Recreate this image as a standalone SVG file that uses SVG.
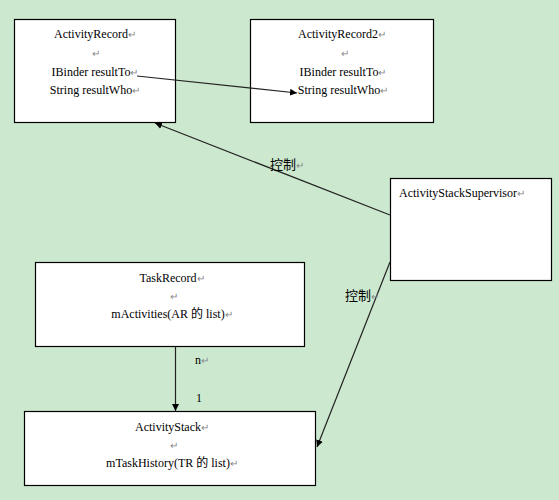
<svg xmlns="http://www.w3.org/2000/svg" width="559" height="500" viewBox="0 0 559 500">
<style>
.box{fill:#fff;stroke:#000;stroke-width:1.2}
.t{font-family:"Liberation Serif","Noto Sans CJK SC",serif;font-size:12px;fill:#000}
.c{text-anchor:middle}
.pm{fill:#888;font-size:10px}
.cn{font-family:"Noto Sans CJK SC",sans-serif;font-size:13px;fill:#000}
.ln{stroke:#222;stroke-width:1.2;fill:none;marker-end:url(#ah)}
</style>
<defs>
<marker id="ah" viewBox="0 0 10 10" refX="10" refY="5" markerWidth="7" markerHeight="7" markerUnits="userSpaceOnUse" orient="auto">
<path d="M0,0 L10,5 L0,10 z" fill="#000"/>
</marker>
</defs>
<rect width="559" height="500" fill="#CCE8CF"/>
<g id="activityRecord">
<rect class="box" x="14.5" y="19.5" width="161" height="103"/>
<text class="t c" x="95" y="38">ActivityRecord<tspan class="pm">↵</tspan></text>
<text class="t c pm" x="96" y="57">↵</text>
<text class="t c" x="95" y="76">IBinder resultTo<tspan class="pm">↵</tspan></text>
<text class="t c" x="95" y="94">String resultWho<tspan class="pm">↵</tspan></text>
</g>
<g id="activityRecord2">
<rect class="box" x="250.5" y="19.5" width="183" height="103"/>
<text class="t c" x="342" y="38">ActivityRecord2<tspan class="pm">↵</tspan></text>
<text class="t c pm" x="345" y="57">↵</text>
<text class="t c" x="343" y="76">IBinder resultTo<tspan class="pm">↵</tspan></text>
<text class="t c" x="343" y="94">String resultWho<tspan class="pm">↵</tspan></text>
</g>
<g id="activityStackSupervisor">
<rect class="box" x="390.5" y="178.5" width="161" height="102"/>
<text class="t" x="399" y="197">ActivityStackSupervisor<tspan class="pm">↵</tspan></text>
</g>
<g id="taskRecord">
<rect class="box" x="35.5" y="262.5" width="269" height="84"/>
<text class="t c" x="172" y="282">TaskRecord<tspan class="pm">↵</tspan></text>
<text class="t c pm" x="174" y="300">↵</text>
<text class="t c" x="172" y="318">mActivities(AR 的 list)<tspan class="pm">↵</tspan></text>
</g>
<g id="activityStack">
<rect class="box" x="24.5" y="411.5" width="291" height="74"/>
<text class="t c" x="172" y="431">ActivityStack<tspan class="pm">↵</tspan></text>
<text class="t c pm" x="174" y="449">↵</text>
<text class="t c" x="172" y="467">mTaskHistory(TR 的 list)<tspan class="pm">↵</tspan></text>
</g>
<g id="connectors">
<line class="ln" x1="137" y1="76" x2="297" y2="93"/>
<line class="ln" x1="390" y1="215" x2="155" y2="123"/>
<line class="ln" x1="390" y1="262" x2="317" y2="447"/>
<line class="ln" x1="175.5" y1="347" x2="175.5" y2="411"/>
<text class="cn" x="270" y="169">控制<tspan class="pm">↵</tspan></text>
<text class="cn" x="345" y="300">控制<tspan class="pm">↵</tspan></text>
<text class="t" x="195" y="364">n<tspan class="pm">↵</tspan></text>
<text class="t" x="196" y="402">1</text>
</g>
</svg>
